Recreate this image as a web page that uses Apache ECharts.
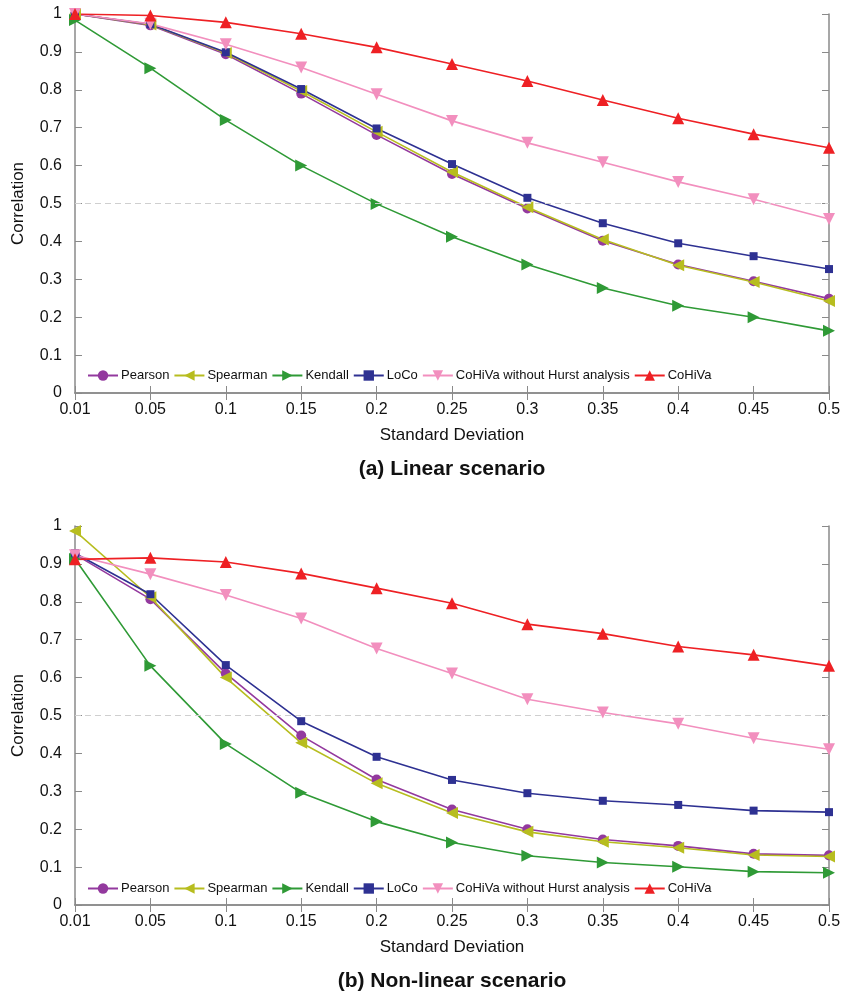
<!DOCTYPE html>
<html>
<head>
<meta charset="utf-8">
<title>Correlation vs standard deviation</title>
<script src="https://cdn.jsdelivr.net/npm/echarts@6/dist/echarts.min.js"></script>
<style>
  html, body { margin: 0; padding: 0; background: #fff; }
  #chart { width: 844px; height: 997px; }
</style>
</head>
<body>
<div id="chart"></div>
<script>
// Noise levels on the x axis
const stdDevLabels = ['0.01', '0.05', '0.1', '0.15', '0.2', '0.25', '0.3', '0.35', '0.4', '0.45', '0.5'];

const seriesNames = ['Pearson', 'Spearman', 'Kendall', 'LoCo', 'CoHiVa without Hurst analysis', 'CoHiVa'];

// (a) Linear scenario
const linearPearson  = [1.000, 0.970, 0.894, 0.790, 0.681, 0.578, 0.487, 0.402, 0.339, 0.295, 0.249];
const linearSpearman = [1.000, 0.972, 0.897, 0.797, 0.689, 0.583, 0.490, 0.405, 0.337, 0.293, 0.243];
const linearKendall  = [0.984, 0.857, 0.720, 0.600, 0.499, 0.412, 0.339, 0.277, 0.230, 0.200, 0.164];
const linearLoCo     = [1.000, 0.973, 0.899, 0.802, 0.698, 0.604, 0.515, 0.448, 0.395, 0.361, 0.327];
const linearCoHiVaNoHurst = [1.000, 0.974, 0.920, 0.859, 0.788, 0.718, 0.660, 0.609, 0.557, 0.511, 0.459];
const linearCoHiVa   = [1.000, 0.996, 0.978, 0.948, 0.912, 0.868, 0.823, 0.773, 0.725, 0.683, 0.647];

// (b) Non-linear scenario
const nonlinPearson  = [0.925, 0.807, 0.611, 0.447, 0.331, 0.252, 0.200, 0.173, 0.156, 0.135, 0.131];
const nonlinSpearman = [0.987, 0.812, 0.600, 0.428, 0.321, 0.243, 0.193, 0.167, 0.151, 0.132, 0.128];
const nonlinKendall  = [0.913, 0.631, 0.425, 0.296, 0.220, 0.165, 0.130, 0.112, 0.101, 0.088, 0.085];
const nonlinLoCo     = [0.928, 0.820, 0.633, 0.485, 0.391, 0.330, 0.295, 0.275, 0.264, 0.249, 0.245];
const nonlinCoHiVaNoHurst = [0.923, 0.873, 0.818, 0.756, 0.677, 0.611, 0.543, 0.508, 0.478, 0.440, 0.411];
const nonlinCoHiVa   = [0.912, 0.916, 0.905, 0.875, 0.836, 0.796, 0.741, 0.716, 0.682, 0.660, 0.631];

const referenceLevel = 0.5;

const linearData = [linearPearson, linearSpearman, linearKendall, linearLoCo, linearCoHiVaNoHurst, linearCoHiVa];
const nonlinData = [nonlinPearson, nonlinSpearman, nonlinKendall, nonlinLoCo, nonlinCoHiVaNoHurst, nonlinCoHiVa];

// marker style per method
const styles = [
  { color: '#93399e', symbol: 'circle',   size: 10, rotate: 0 },
  { color: '#b7bd1f', symbol: 'triangle', size: 12, rotate: 90 },
  { color: '#2f9a36', symbol: 'triangle', size: 12, rotate: -90 },
  { color: '#2e3192', symbol: 'rect',     size: 8,  rotate: 0 },
  { color: '#f28fbe', symbol: 'triangle', size: 12, rotate: 180 },
  { color: '#ee2024', symbol: 'triangle', size: 12, rotate: 0 }
];

const FONT = '"Liberation Sans", Arial, sans-serif';
const axisGray = '#8a8a8a';

const PLOT_LEFT = 75, PLOT_RIGHT = 15, PLOT_H = 379;
const TOP1 = 14, TOP2 = 526;

function bottomX(gridIndex) {
  return {
    type: 'category', gridIndex, data: stdDevLabels, boundaryGap: false,
    name: 'Standard Deviation', nameLocation: 'middle', nameGap: 34,
    nameTextStyle: { fontFamily: FONT, fontSize: 17, color: '#111' },
    axisLine: { lineStyle: { color: axisGray, width: 1.5 } },
    axisTick: { inside: true, length: 7, lineStyle: { color: axisGray } },
    axisLabel: { fontFamily: FONT, fontSize: 16, color: '#111', margin: 9, interval: 0 },
    splitLine: { show: false }
  };
}
function topX(gridIndex) {
  return {
    type: 'category', gridIndex, position: 'top', data: stdDevLabels, boundaryGap: false,
    axisLine: { lineStyle: { color: axisGray, width: 1.5 } },
    axisTick: { inside: true, length: 7, lineStyle: { color: axisGray } },
    axisLabel: { show: false }, splitLine: { show: false }
  };
}
function leftY(gridIndex) {
  return {
    type: 'value', gridIndex, min: 0, max: 1, interval: 0.1,
    name: 'Correlation', nameLocation: 'middle', nameGap: 48,
    nameTextStyle: { fontFamily: FONT, fontSize: 17, color: '#111' },
    axisLine: { show: true, lineStyle: { color: axisGray, width: 1.5 } },
    axisTick: { show: true, inside: true, length: 7, lineStyle: { color: axisGray } },
    axisLabel: { fontFamily: FONT, fontSize: 16, color: '#111', margin: 13,
      formatter: v => String(Math.round(v * 10) / 10) },
    splitLine: { show: false }
  };
}
function rightY(gridIndex) {
  return {
    type: 'value', gridIndex, position: 'right', min: 0, max: 1, interval: 0.1,
    axisLine: { show: true, lineStyle: { color: axisGray, width: 1.5 } },
    axisTick: { show: true, inside: true, length: 7, lineStyle: { color: axisGray } },
    axisLabel: { show: false }, splitLine: { show: false }
  };
}

function buildSeries(dataSet, xIdx, yIdx) {
  return dataSet.map((values, i) => {
    const s = styles[i];
    const item = {
      type: 'line', name: seriesNames[i], xAxisIndex: xIdx, yAxisIndex: yIdx,
      data: values, symbol: s.symbol, symbolSize: s.size, symbolRotate: s.rotate,
      showAllSymbol: true,
      lineStyle: { color: s.color, width: 1.6 },
      itemStyle: { color: s.color },
      emphasis: { disabled: true }
    };
    if (i === 0) {
      item.markLine = {
        silent: true, symbol: 'none', animation: false,
        label: { show: false },
        lineStyle: { color: '#cfcfcf', type: [6, 4], width: 1 },
        data: [{ yAxis: referenceLevel }]
      };
    }
    return item;
  });
}

function legendAt(top) {
  return {
    top, left: 87, orient: 'horizontal', padding: 0,
    data: seriesNames, itemWidth: 30, itemHeight: 13, itemGap: 4,
    selectedMode: false,
    textStyle: { fontFamily: FONT, fontSize: 13, color: '#111', padding: [0, 0, 0, -2] }
  };
}

const chart = echarts.init(document.getElementById('chart'), null, { renderer: 'canvas' });
chart.setOption({
  animation: false,
  backgroundColor: '#fff',
  grid: [
    { left: PLOT_LEFT, right: PLOT_RIGHT, top: TOP1, height: PLOT_H },
    { left: PLOT_LEFT, right: PLOT_RIGHT, top: TOP2, height: PLOT_H }
  ],
  xAxis: [bottomX(0), topX(0), bottomX(1), topX(1)],
  yAxis: [leftY(0), rightY(0), leftY(1), rightY(1)],
  legend: [legendAt(369), legendAt(882)],
  series: [].concat(buildSeries(linearData, 0, 0), buildSeries(nonlinData, 2, 2)),
  graphic: [
    { type: 'text', x: 452, y: 469, style: { text: '(a) Linear scenario', fontFamily: FONT,
      fontWeight: 'bold', fontSize: 21, fill: '#111', textAlign: 'center', textVerticalAlign: 'middle' } },
    { type: 'text', x: 452, y: 981, style: { text: '(b) Non-linear scenario', fontFamily: FONT,
      fontWeight: 'bold', fontSize: 21, fill: '#111', textAlign: 'center', textVerticalAlign: 'middle' } }
  ]
});
</script>
</body>
</html>
